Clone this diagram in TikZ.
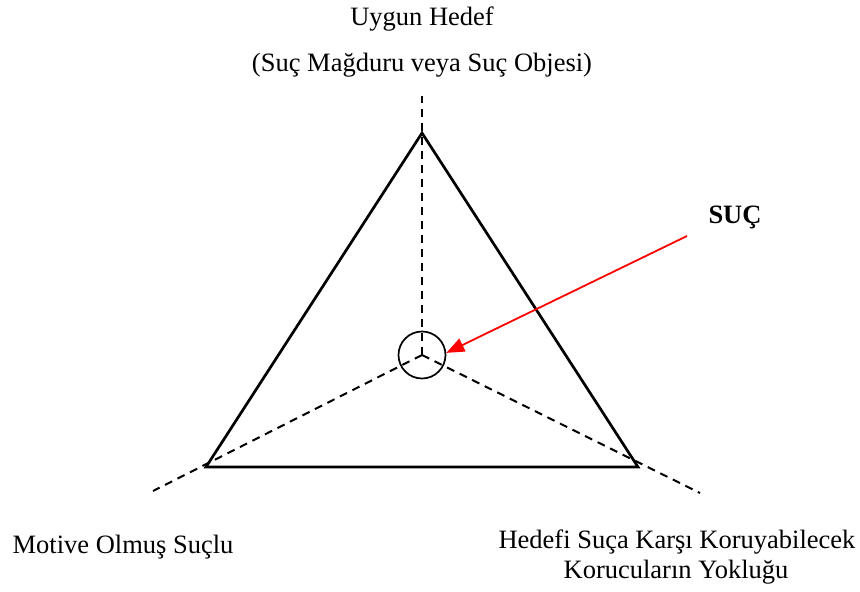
\documentclass[tikz,border=0pt]{standalone}
\usepackage{fontspec}
\setmainfont{Liberation Serif}
\usetikzlibrary{arrows.meta}
\begin{document}
\begin{tikzpicture}[x=1pt,y=-1pt,
  lbl/.style={anchor=base,inner sep=0pt,font=\fontsize{26.5}{30}\selectfont},
  tri/.style={line width=2.7pt,line join=miter},
  dsh/.style={line width=2pt,dash pattern=on 8pt off 6pt},
  ring/.style={circle,draw,line width=1.7pt,minimum size=47pt,inner sep=0pt},
  redarrow/.style={red,line width=1.8pt,-{Triangle[length=18pt,width=14pt]}}]
\useasboundingbox (0,0) rectangle (860,592);
\fill[white] (0,0) rectangle (860,592);
% vertices
\coordinate (top) at (422,133);
\coordinate (bl) at (206,467);
\coordinate (br) at (638,467);
\coordinate (ctr) at (422,355);
% dashed ends
\coordinate (dtop) at (422,96);
\coordinate (dbl) at (153,491);
\coordinate (dbr) at (700,493);
% dashed medians
\draw[dsh] (ctr) -- (dtop);
\draw[dsh] (ctr) -- (dbl);
\draw[dsh] (ctr) -- (dbr);
% triangle
\draw[tri] (top) -- (bl) -- (br) -- cycle;
% circle
\node[ring] (circ) at (ctr) {};
% arrow
\coordinate (astart) at (687,236);
\draw[redarrow] (astart) -- (circ.5);
% labels
\node[lbl] (t1) at (422,25) {Uygun Hedef};
\node[lbl] (t2) at (422,71) {(Suç Mağduru veya Suç Objesi)};
\node[lbl,font=\fontsize{26.5}{30}\selectfont\bfseries] (suc) at (735,223) {SUÇ};
\node[lbl] (mot) at (123,553) {Motive Olmuş Suçlu};
\node[lbl] (h1) at (677,548) {Hedefi Suça Karşı Koruyabilecek};
\node[lbl] (h2) at (676,578) {Korucuların Yokluğu};
\end{tikzpicture}
\end{document}
